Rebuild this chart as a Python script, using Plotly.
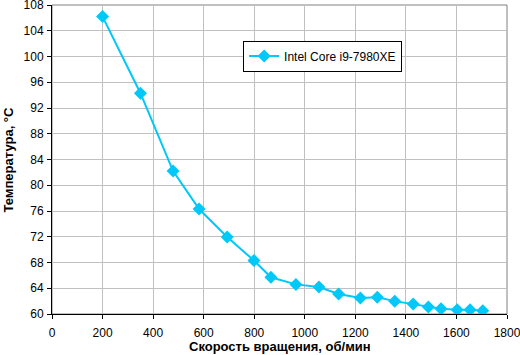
import plotly.graph_objects as go

rpm = [200, 350, 479, 582, 693, 799, 866, 965, 1056, 1134, 1220, 1287, 1356, 1429, 1489, 1539, 1603, 1654, 1704]
temp = [106.2, 94.3, 82.2, 76.3, 71.95, 68.3, 65.7, 64.6, 64.2, 63.1, 62.5, 62.6, 62.0, 61.55, 61.1, 60.8, 60.65, 60.65, 60.5]
series_name = "Intel Core i9-7980XE"
x_title = "Скорость вращения, об/мин"
y_title = "Температура, °C"

color = "#00C8F8"
fig = go.Figure()
fig.add_trace(go.Scatter(
    x=rpm, y=temp, mode="lines+markers", name=series_name,
    line=dict(color=color, width=2),
    marker=dict(symbol="diamond", size=10, color=color),
))

font = "Liberation Sans, Arial, sans-serif"
fig.update_layout(
    width=520, height=355,
    margin=dict(l=52, r=13, t=5, b=41, autoexpand=False),
    paper_bgcolor="white", plot_bgcolor="white",
    font=dict(family=font, size=12, color="black"),
    showlegend=True,
    legend=dict(x=0.42, y=0.885, xanchor="left", yanchor="top",
                bordercolor="black", borderwidth=1, bgcolor="white",
                font=dict(size=12), itemwidth=30),
    xaxis=dict(range=[0, 1800], dtick=200, tick0=0, showgrid=True,
               gridcolor="#C0C0C0", gridwidth=1, showline=True,
               linecolor="black", linewidth=1, ticks="outside", ticklen=4,
               tickcolor="black", zeroline=False, automargin=False,
               ticklabelstandoff=4, ticklabeloverflow="allow"),
    yaxis=dict(range=[60, 108], dtick=4, tick0=60, showgrid=True,
               gridcolor="#C0C0C0", gridwidth=1, showline=True,
               linecolor="black", linewidth=1, ticks="outside", ticklen=4,
               tickcolor="black", zeroline=False, automargin=False,
               ticklabelstandoff=1, ticklabeloverflow="allow"),
)
fig.add_annotation(text="<b>" + x_title + "</b>", xref="paper", yref="paper",
                   x=0.5, y=0, yshift=-32, xanchor="center", yanchor="middle",
                   showarrow=False, font=dict(size=13))
fig.add_annotation(text="<b>" + y_title + "</b>", xref="paper", yref="paper",
                   x=0, xshift=-44, y=0.5, xanchor="center", yanchor="middle",
                   textangle=-90, showarrow=False, font=dict(size=13))
fig.add_shape(type="rect", xref="paper", yref="paper", x0=0, y0=0, x1=1, y1=1,
              line=dict(color="#808080", width=1), layer="below")
fig.write_html("out.html", config={"displayModeBar": False},
               post_script="document.body.style.margin='0';document.body.style.overflow='hidden';")
